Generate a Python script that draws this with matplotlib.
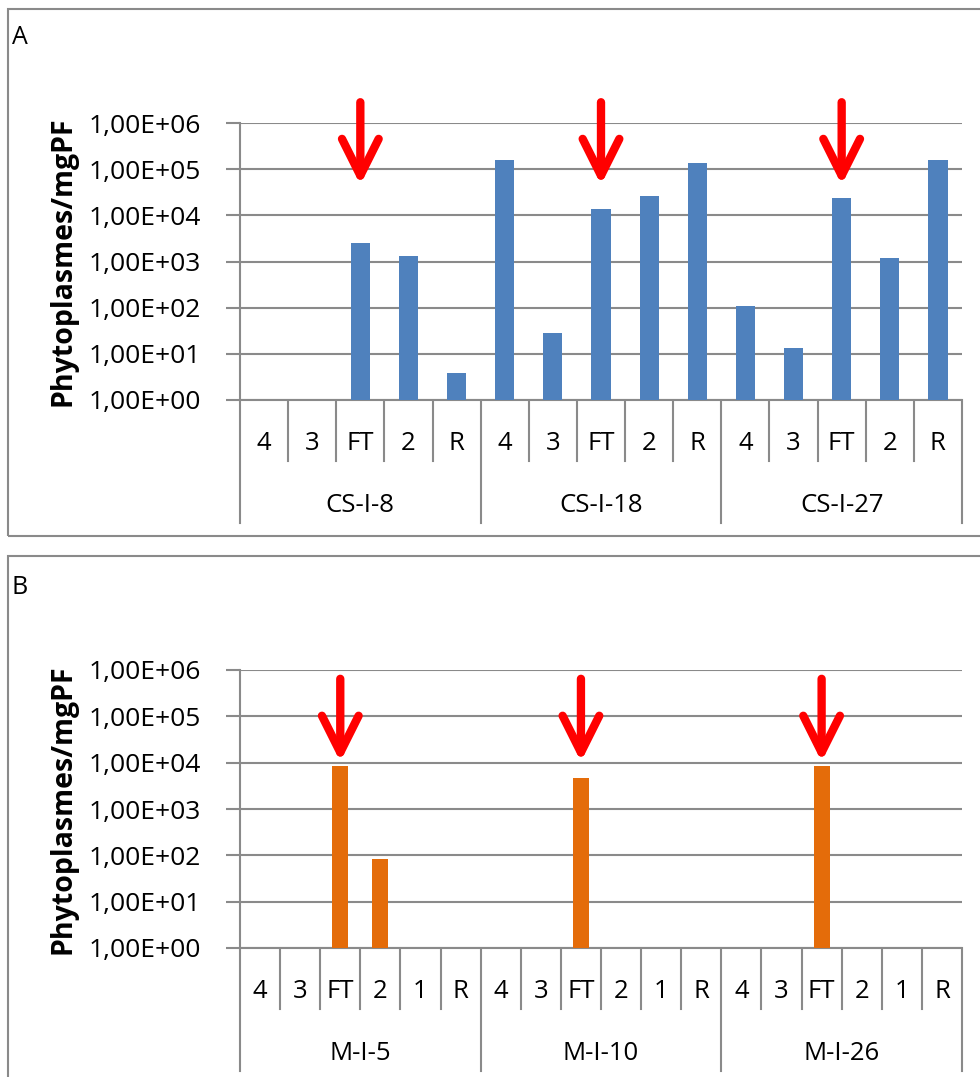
import matplotlib
matplotlib.use('Agg')
import matplotlib.pyplot as plt
from matplotlib.patches import Rectangle
from matplotlib.lines import Line2D
import numpy as np

W, H = 980, 1077
DPI = 100

plt.rcParams['font.family'] = ['Open Sans', 'DejaVu Sans']

NAN = float('nan')

# panel A
a_groups = ['CS-I-8', 'CS-I-18', 'CS-I-27']
a_stages = ['4', '3', 'FT', '2', 'R']
a_values = [NAN, NAN, 2.5e3, 1.3e3, 3.8,
            1.55e5, 28, 1.4e4, 2.6e4, 1.35e5,
            108, 13.4, 2.4e4, 1.2e3, 1.55e5]

# panel B
b_groups = ['M-I-5', 'M-I-10', 'M-I-26']
b_stages = ['4', '3', 'FT', '2', '1', 'R']
b_values = [NAN, NAN, 8.5e3, 84, NAN, NAN,
            NAN, NAN, 4.7e3, NAN, NAN, NAN,
            NAN, NAN, 8.5e3, NAN, NAN, NAN]

y_ticks = [1e0, 1e1, 1e2, 1e3, 1e4, 1e5, 1e6]
y_tick_labels = ['1,00E+00', '1,00E+01', '1,00E+02', '1,00E+03',
                 '1,00E+04', '1,00E+05', '1,00E+06']
y_label = 'Phytoplasmes/mgPF'

# arrows (start, tip) in data units, pointing at the FT bars
a_arrow = (10 ** 6.45, 10 ** 4.66)
b_arrow = (10 ** 5.81, 10 ** 4.02)

GRAY = '#8a8a8a'
BLUE = '#4f81bd'
ORANGE = '#e46c0a'
FS = 18.5


def draw_panel(fig, rect, groups, stages, values, color, arrow):
    ax = fig.add_axes(rect)
    ax_h = rect[3] * H
    n = len(values)
    x = np.arange(n)
    vals = np.array(values, dtype=float)
    ok = ~np.isnan(vals)

    ax.set_yscale('log')
    ax.bar(x[ok], vals[ok] - 1, bottom=1, width=0.4, color=color, zorder=3)
    ax.set_ylim(y_ticks[0], y_ticks[-1])
    ax.set_xlim(-0.5, n - 0.5)

    ax.set_yticks(y_ticks)
    ax.set_yticklabels(y_tick_labels, fontsize=FS + 0.5)
    ax.yaxis.set_minor_locator(plt.NullLocator())
    ax.tick_params(axis='y', length=10, width=1.5, color=GRAY, pad=18)
    ax.grid(axis='y', color=GRAY, lw=1.5, zorder=0)
    ax.set_xticks([])
    for s in ['top', 'right']:
        ax.spines[s].set_visible(False)
    for s in ['left', 'bottom']:
        ax.spines[s].set_color(GRAY)
        ax.spines[s].set_linewidth(1.5)
    ax.set_ylabel(y_label, fontsize=20.5, fontweight='bold', labelpad=8)

    # two level category axis
    tr = ax.get_xaxis_transform()
    k = len(stages)
    labels = stages * len(groups)
    for i in range(n):
        ax.text(x[i], -43 / ax_h, labels[i], transform=tr, ha='center',
                va='center', fontsize=FS)
    for b in range(n + 1):
        big = b % k == 0
        depth = 123 if big else 61
        ax.add_line(Line2D([b - 0.5, b - 0.5], [-2 / ax_h, -depth / ax_h],
                           transform=tr, color=GRAY, lw=1.5, clip_on=False))
    for g, name in enumerate(groups):
        ax.text(g * k + (k - 1) / 2, -105 / ax_h, name, transform=tr,
                ha='center', va='center', fontsize=FS)

    # red arrows above the FT samples
    for i in range(n):
        if labels[i] == 'FT':
            ax.annotate('', xy=(x[i], arrow[1]), xytext=(x[i], arrow[0]),
                        annotation_clip=False,
                        arrowprops=dict(arrowstyle='->,head_length=1.6,head_width=0.8',
                                        mutation_scale=16.5, lw=6, color='#ff0000',
                                        shrinkA=0, shrinkB=0,
                                        capstyle='round', joinstyle='round'),
                        zorder=5)
    return ax


fig = plt.figure(figsize=(W / DPI, H / DPI), dpi=DPI)

# panel frames
fig.patches.append(Rectangle((8 / W, 1 - 536 / H), 1.0, (536 - 9) / H,
                             transform=fig.transFigure, fill=False,
                             edgecolor=GRAY, lw=1.5))
fig.patches.append(Rectangle((8 / W, -0.05), 1.0, 1 - 556 / H + 0.05,
                             transform=fig.transFigure, fill=False,
                             edgecolor=GRAY, lw=1.5))
fig.text(12 / W, 1 - 38 / H, 'A', fontsize=18, va='center')
fig.text(12 / W, 1 - 587 / H, 'B', fontsize=18, va='center')

draw_panel(fig, [240 / W, 1 - 400 / H, 722 / W, 277 / H],
           a_groups, a_stages, a_values, BLUE, a_arrow)
draw_panel(fig, [240 / W, 1 - 948 / H, 722 / W, 278 / H],
           b_groups, b_stages, b_values, ORANGE, b_arrow)

fig.savefig('out.png', dpi=DPI)
